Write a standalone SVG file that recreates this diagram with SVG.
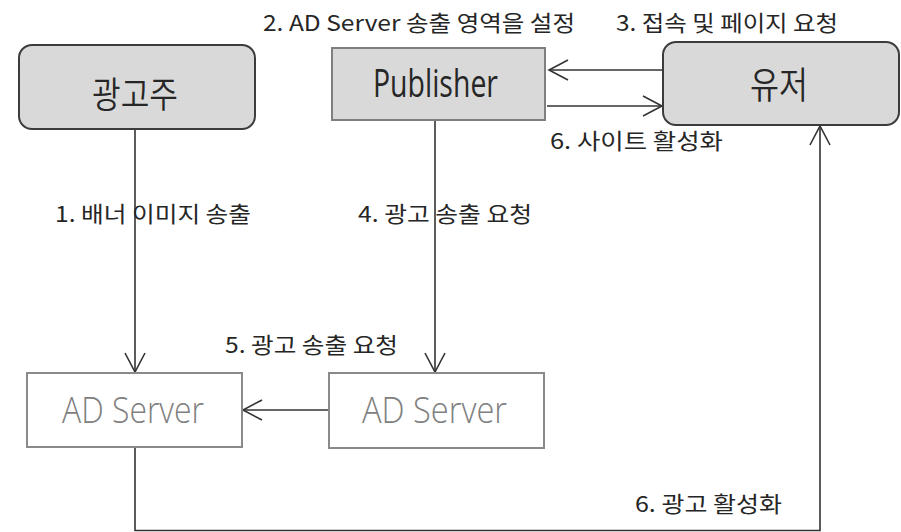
<svg xmlns="http://www.w3.org/2000/svg" width="901" height="532" viewBox="0 0 901 532">
  <style>
    .actor { fill: #d9d9d9; stroke: #3c3c3c; stroke-width: 2; }
    .pub { fill: #d9d9d9; stroke: #7f7f7f; stroke-width: 2; }
    .srv { fill: #ffffff; stroke: #8a8a8a; stroke-width: 2; }
    .title { font-family: "Noto Sans CJK KR", "Liberation Sans", sans-serif; font-weight: 350; fill: #262626; text-anchor: middle; }
    .latin { font-family: "Open Sans", "Liberation Sans", sans-serif; font-weight: 400; }
    .srvtext { font-family: "Open Sans", "Liberation Sans", sans-serif; font-weight: 300; fill: #808080; font-size: 37px; }
    .lbl { font-family: "Noto Sans CJK KR", "Liberation Sans", sans-serif; fill: #262626; font-size: 22px; }
    .edge { fill: none; stroke: #333333; stroke-width: 1.6; }
  </style>
  <defs>
    <marker id="open-arrow" markerUnits="userSpaceOnUse" markerWidth="22" markerHeight="24" viewBox="0 0 22 24" refX="20" refY="12" orient="auto">
      <path d="M1,2 L20,12 L1,22" fill="none" stroke="#333333" stroke-width="1.6"/>
    </marker>
  </defs>

  <rect width="901" height="532" fill="#ffffff"/>

  <!-- connectors -->
  <g id="connectors">
    <path class="edge" d="M135,129 L135,372" marker-end="url(#open-arrow)"/>
    <path class="edge" d="M435,120 L435,372" marker-end="url(#open-arrow)"/>
    <path class="edge" d="M663,70 L549,70" marker-end="url(#open-arrow)"/>
    <path class="edge" d="M547,106 L662,106" marker-end="url(#open-arrow)"/>
    <path class="edge" d="M329,410 L243,410" marker-end="url(#open-arrow)"/>
    <path class="edge" d="M135,447 L135,530.5 L820,530.5 L820,126" marker-end="url(#open-arrow)"/>
  </g>

  <!-- edge labels -->
  <g id="labels">
    <text class="lbl" x="263" y="31" textLength="312" lengthAdjust="spacingAndGlyphs">2. AD Server 송출 영역을 설정</text>
    <text class="lbl" x="616" y="31" textLength="222" lengthAdjust="spacingAndGlyphs">3. 접속 및 페이지 요청</text>
    <text class="lbl" x="550" y="149" textLength="173" lengthAdjust="spacingAndGlyphs">6. 사이트 활성화</text>
    <text class="lbl" x="55" y="222" textLength="196" lengthAdjust="spacingAndGlyphs">1. 배너 이미지 송출</text>
    <text class="lbl" x="358" y="222" textLength="174" lengthAdjust="spacingAndGlyphs">4. 광고 송출 요청</text>
    <text class="lbl" x="225" y="353" textLength="173" lengthAdjust="spacingAndGlyphs">5. 광고 송출 요청</text>
    <text class="lbl" x="635" y="512" textLength="147" lengthAdjust="spacingAndGlyphs">6. 광고 활성화</text>
  </g>

  <g id="advertiser">
    <rect class="actor" x="19" y="45" width="236" height="84" rx="13"/>
    <text class="title" x="135" y="108" font-size="36" textLength="86" lengthAdjust="spacingAndGlyphs">광고주</text>
  </g>

  <g id="publisher">
    <rect class="pub" x="332" y="48" width="213" height="72"/>
    <text class="title latin" x="435.5" y="97" font-size="38" textLength="125" lengthAdjust="spacingAndGlyphs">Publisher</text>
  </g>

  <g id="user">
    <rect class="actor" x="663" y="42" width="236" height="83" rx="13"/>
    <text class="title" x="779" y="99" font-size="37" textLength="58" lengthAdjust="spacingAndGlyphs">유저</text>
  </g>

  <g id="adserver-left">
    <rect class="srv" x="27" y="373" width="215" height="74"/>
    <text class="srvtext" x="62" y="423" textLength="142" lengthAdjust="spacingAndGlyphs">AD Server</text>
  </g>

  <g id="adserver-right">
    <rect class="srv" x="329" y="373" width="215" height="75"/>
    <text class="srvtext" x="362" y="423" textLength="145" lengthAdjust="spacingAndGlyphs">AD Server</text>
  </g>
</svg>
